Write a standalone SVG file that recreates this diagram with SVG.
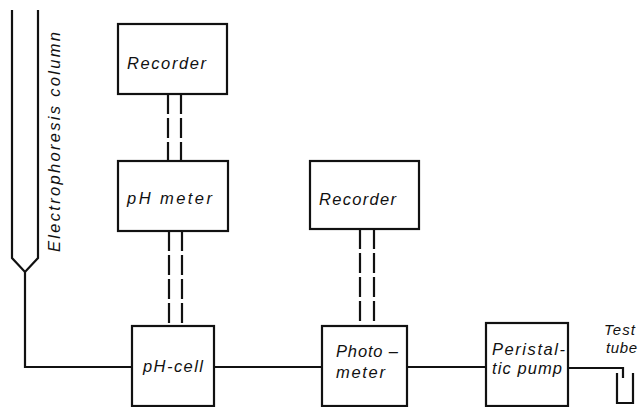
<svg xmlns="http://www.w3.org/2000/svg" width="639" height="407" viewBox="0 0 639 407">
<style>
.box{fill:none;stroke:#111;stroke-width:2.2}
.ln{fill:none;stroke:#111;stroke-width:2.2}
.dash{fill:none;stroke:#111;stroke-width:2.2;stroke-dasharray:20 4}
text{font-family:"Liberation Sans",Arial,sans-serif;font-style:italic;font-size:16.5px;fill:#111}
.sm{font-size:15px}
</style>
<rect width="639" height="407" fill="#fff"/>
<g id="column">
<path class="ln" d="M12,10 V258 L25,272 L38,258 V10"/>
<text transform="translate(60,252) rotate(-90)" textLength="220" lengthAdjust="spacing">Electrophoresis  column</text>
</g>
<g id="recorder1">
<rect class="box" x="118" y="24" width="109" height="70"/>
<text x="127" y="69" textLength="79" lengthAdjust="spacing">Recorder</text>
</g>
<g id="phmeter">
<rect class="box" x="118" y="161" width="110" height="70"/>
<text x="127" y="204" textLength="85" lengthAdjust="spacing">pH meter</text>
</g>
<g id="phcell">
<rect class="box" x="132" y="326" width="82" height="80"/>
<text x="143" y="372" textLength="60" lengthAdjust="spacing">pH-cell</text>
</g>
<g id="recorder2">
<rect class="box" x="310" y="161" width="109" height="68"/>
<text x="319" y="205" textLength="77" lengthAdjust="spacing">Recorder</text>
</g>
<g id="photometer">
<rect class="box" x="322" y="326" width="85" height="80"/>
<text x="336" y="357" textLength="62" lengthAdjust="spacing">Photo –</text>
<text x="336" y="378" textLength="49" lengthAdjust="spacing">meter</text>
</g>
<g id="pump">
<rect class="box" x="486" y="323" width="82" height="83"/>
<text x="492" y="355" textLength="73" lengthAdjust="spacing">Peristal-</text>
<text x="492" y="374" textLength="70" lengthAdjust="spacing">tic pump</text>
</g>
<g id="testtube">
<path class="ln" d="M617,373 V403 H633 V373"/>
<text class="sm" x="604" y="335" textLength="31" lengthAdjust="spacing">Test</text>
<text class="sm" x="606" y="353" textLength="31" lengthAdjust="spacing">tube</text>
</g>
<g id="connectors">
<path class="ln" d="M25,272 V367 H132"/>
<path class="ln" d="M214,367 H322"/>
<path class="ln" d="M407,367 H486"/>
<path class="ln" d="M568,368 H623 V378"/>
<path class="dash" d="M168,94 V161 M181,94 V161"/>
<path class="dash" d="M169,231 V326 M182,231 V326"/>
<path class="dash" d="M360,229 V326 M374,229 V326"/>
</g>
</svg>
